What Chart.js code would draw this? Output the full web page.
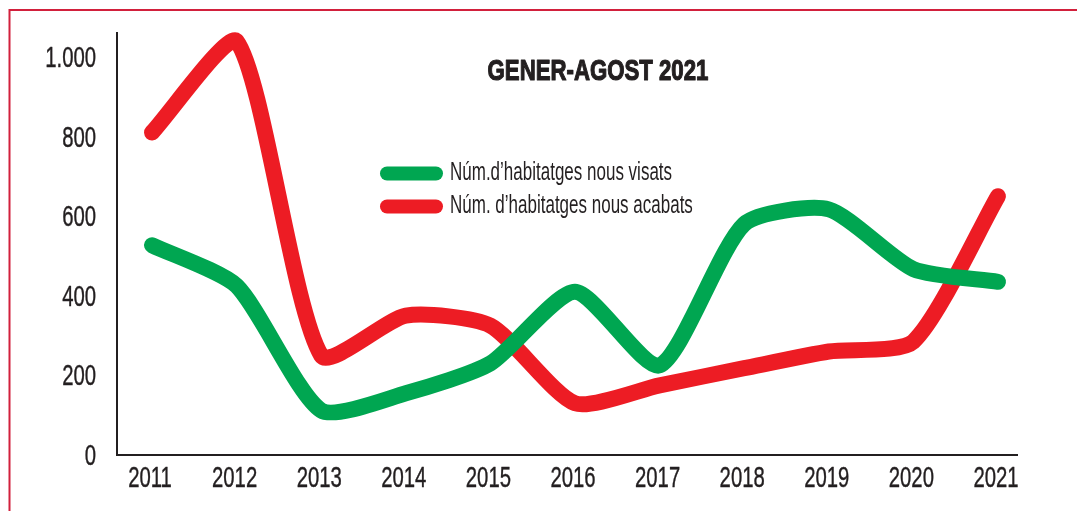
<!DOCTYPE html>
<html>
<head>
<meta charset="utf-8">
<script src="https://cdn.jsdelivr.net/npm/chart.js@4"></script>
<style>
    html, body { margin: 0; padding: 0; background: #fff; }
    #wrap { width: 1077px; height: 511px; position: relative; }
</style>
</head>
<body>
<div id="wrap"><canvas id="chart"></canvas></div>
<script>
// values
const years = [2011, 2012, 2013, 2014, 2015, 2016, 2017, 2018, 2019, 2020, 2021];
const visats = [527, 425, 112, 155, 230, 410, 225, 580, 617, 467, 435];
const acabats = [810, 1040, 250, 350, 325, 130, 175, 218, 260, 285, 650];
const yTicks = [0, 200, 400, 600, 800, 1000];
const seriesLabels = ['Núm.d\u2019habitatges nous visats', 'Núm. d\u2019habitatges nous acabats'];
const chartTitle = 'GENER-AGOST 2021';

const GREEN = '#00a651';
const RED = '#ed1c24';
const INK = '#231f20';
const FONT = "'Liberation Sans', Arimo, sans-serif";

function toPoints(vals) {
    return years.map((y, i) => ({ x: y, y: vals[i] }));
}

function fmt(v) {
    // Catalan thousands separator
    return v >= 1000 ? String(v).replace(/\B(?=(\d{3})+(?!\d))/g, '.') : String(v);
}

// the original uses a condensed face, so squeeze text horizontally
// (weight > 0 adds a thin outline to thicken the strokes a bit)
function condensedText(c, text, x, y, align, sx, weight) {
    c.save();
    c.translate(x, y);
    c.scale(sx, 1);
    c.textAlign = align;
    c.fillText(text, 0, 0);
    if (weight) {
        c.strokeStyle = c.fillStyle;
        c.lineWidth = weight;
        c.lineJoin = 'round';
        c.strokeText(text, 0, 0);
    }
    c.restore();
}

// red frame (top + left) behind everything
const framePlugin = {
    id: 'frame',
    beforeDraw(chart) {
        const c = chart.ctx;
        c.save();
        c.fillStyle = '#fff';
        c.fillRect(0, 0, chart.width, chart.height);
        c.strokeStyle = '#d2203c';
        c.lineWidth = 2;
        c.beginPath();
        c.moveTo(9.5, chart.height);
        c.lineTo(9.5, 10);
        c.lineTo(chart.width, 10);
        c.stroke();
        c.restore();
    }
};

// tick labels, title + legend
const overlayPlugin = {
    id: 'overlay',
    afterDraw(chart) {
        const c = chart.ctx;
        const xs = chart.scales.x, ys = chart.scales.y;
        c.save();
        c.fillStyle = INK;
        c.textBaseline = 'middle';

        c.font = '29px ' + FONT;
        years.forEach(v => {
            condensedText(c, String(v), xs.getPixelForValue(v) - 2, ys.bottom + 24, 'center', 0.7, 0.4);
        });
        yTicks.forEach(v => {
            condensedText(c, fmt(v), ys.right - 21, ys.getPixelForValue(v) + 2, 'right', 0.7, 0.4);
        });

        c.font = 'bold 30px ' + FONT;
        condensedText(c, chartTitle, 598, 72, 'center', 0.74, 1.2);

        c.font = '25px ' + FONT;
        chart.data.datasets.forEach((ds, i) => {
            const y = 173.5 + i * 33;
            c.strokeStyle = ds.borderColor;
            c.lineWidth = 14;
            c.lineCap = 'round';
            c.beginPath();
            c.moveTo(387, y);
            c.lineTo(436, y);
            c.stroke();
            c.fillStyle = INK;
            condensedText(c, ds.label, 450, y, 'left', 0.68, 0);
        });
        c.restore();
    }
};

const ctx = document.getElementById('chart');
new Chart(ctx, {
    type: 'line',
    data: {
        datasets: [{
            label: seriesLabels[0],
            data: toPoints(visats),
            borderColor: GREEN,
            backgroundColor: GREEN,
            borderWidth: 16,
            borderCapStyle: 'round',
            borderJoinStyle: 'round',
            pointRadius: 0,
            tension: 0.22,
            clip: false
        }, {
            label: seriesLabels[1],
            data: toPoints(acabats),
            borderColor: RED,
            backgroundColor: RED,
            borderWidth: 16,
            borderCapStyle: 'round',
            borderJoinStyle: 'round',
            pointRadius: 0,
            tension: 0.22,
            clip: false
        }]
    },
    options: {
        responsive: true,
        maintainAspectRatio: false,
        animation: false,
        layout: { padding: { left: 0, right: 60, top: 33, bottom: 0 } },
        plugins: {
            legend: { display: false },
            title: { display: false },
            tooltip: { enabled: false }
        },
        scales: {
            x: {
                type: 'linear',
                min: 2010.586,
                max: 2021.225,
                afterBuildTicks: axis => { axis.ticks = years.map(v => ({ value: v })); },
                afterFit: scale => { scale.height = 56; },
                grid: { display: false, drawTicks: false },
                border: { display: true, color: INK, width: 2 },
                ticks: { display: false }
            },
            y: {
                min: 0,
                max: 1060,
                afterBuildTicks: axis => { axis.ticks = yTicks.map(v => ({ value: v })); },
                afterFit: scale => { scale.width = 117; },
                grid: { display: false, drawTicks: false },
                border: { display: true, color: INK, width: 2 },
                ticks: { display: false }
            }
        }
    },
    plugins: [framePlugin, overlayPlugin]
});
</script>
</body>
</html>
